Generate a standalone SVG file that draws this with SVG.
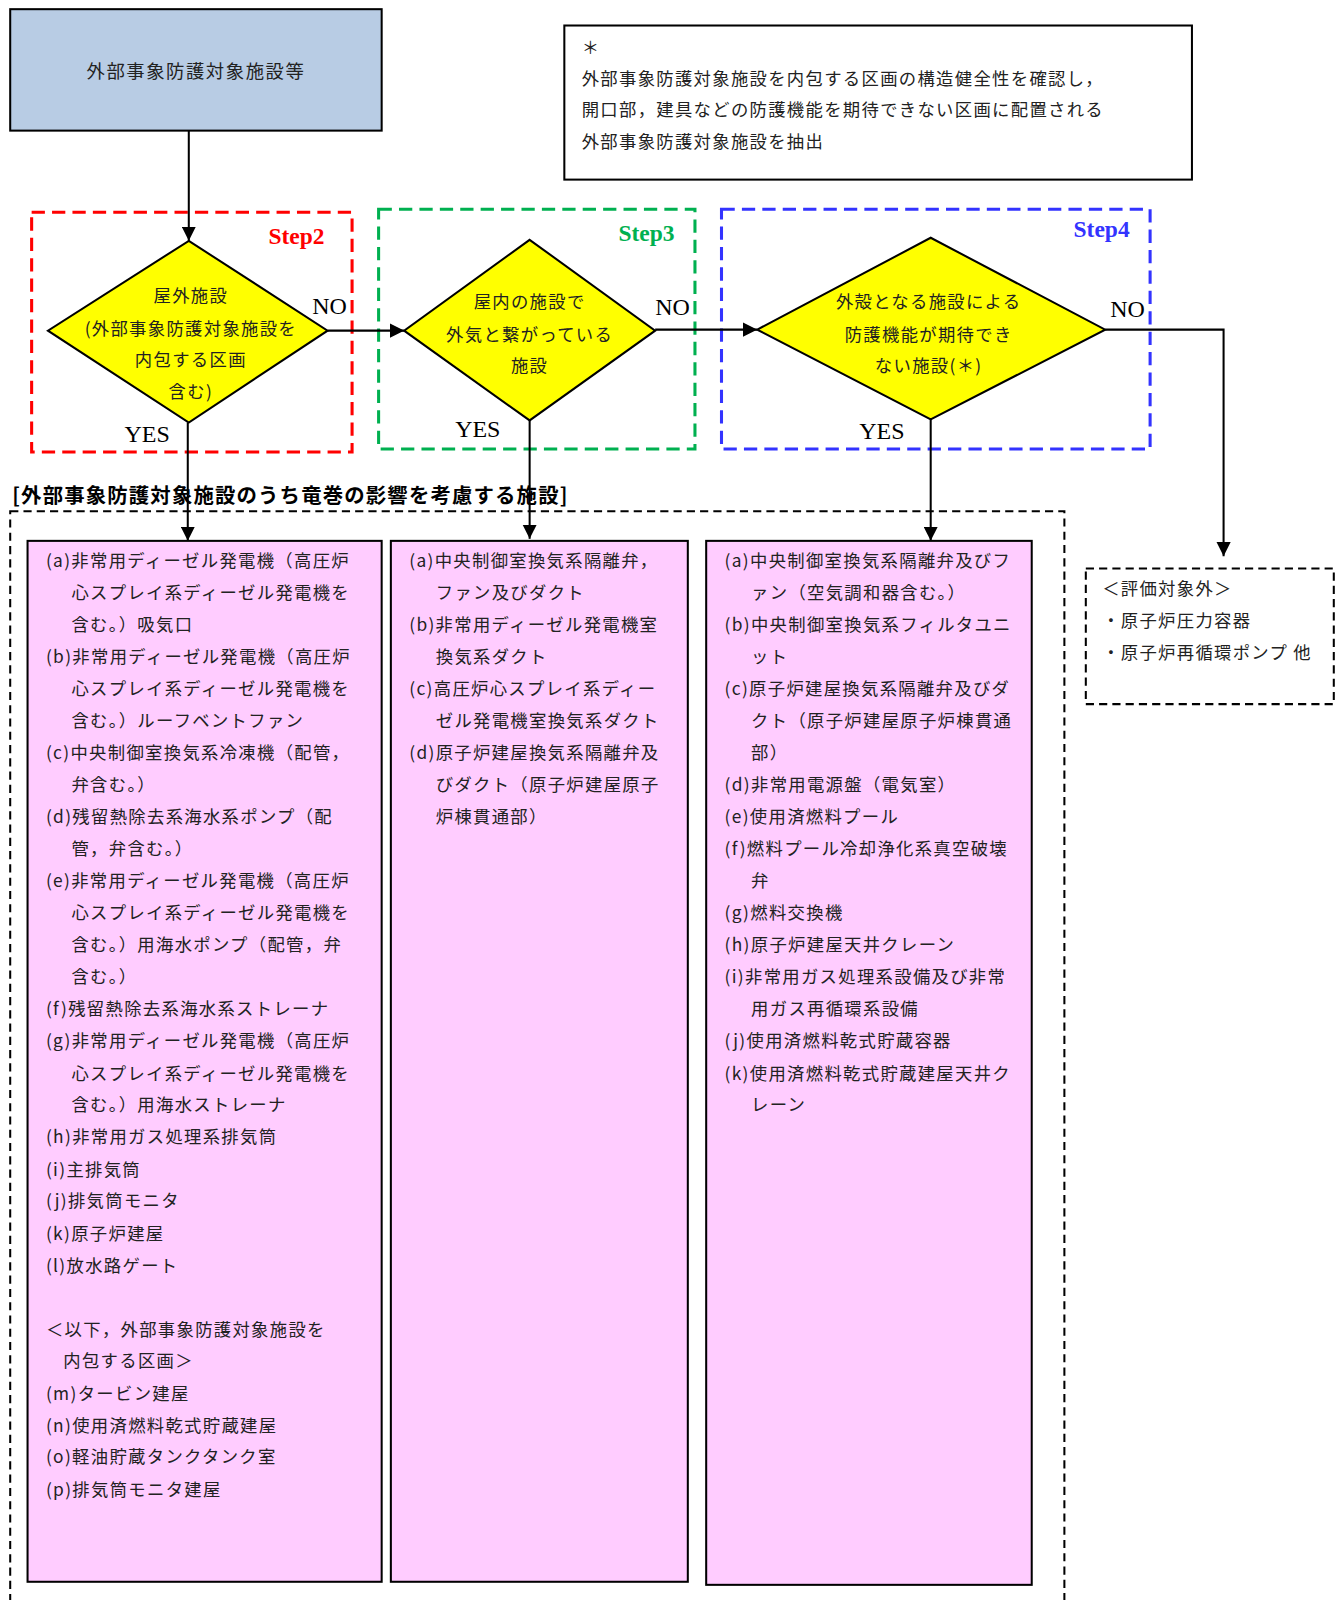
<svg xmlns="http://www.w3.org/2000/svg" width="1344" height="1600" viewBox="0 0 1344 1600">
<defs>
<marker id="arr" markerUnits="userSpaceOnUse" markerWidth="14" markerHeight="14" viewBox="0 0 10 10" refX="10" refY="5" orient="auto">
<path d="M0,0 L10,5 L0,10 z" fill="#000"/>
</marker>
<style>
.t{font-family:"Noto Sans CJK JP","Noto Sans",sans-serif;font-size:17px;fill:#222;letter-spacing:1.3px}
.c{text-anchor:middle}
.lab{font-family:"Liberation Serif","DejaVu Serif",serif;font-size:23.5px;fill:#000}
.step{font-family:"Liberation Serif","DejaVu Serif",serif;font-size:23px;font-weight:bold}
.dash{fill:none;stroke-width:3;stroke-dasharray:13 7}
.kdash{fill:none;stroke:#000;stroke-width:2;stroke-dasharray:8 5}
.pink{fill:#ffccff;stroke:#000;stroke-width:2}
.dia{fill:#ffff00;stroke:#000;stroke-width:2}
.con{fill:none;stroke:#000;stroke-width:2}
</style>
</defs>
<rect width="1344" height="1600" fill="#fff"/>
<g transform="scale(1.0205)">

<g id="frames">
<rect class="dash" x="31" y="208" width="314" height="235" stroke="#ff0000"/>
<rect class="dash" x="371" y="205" width="310" height="235" stroke="#00b050"/>
<rect class="dash" x="707" y="205" width="420" height="235" stroke="#3333ff"/>
<text class="step" x="263" y="239" fill="#ff0000">Step2</text>
<text class="step" x="606" y="236" fill="#00b050">Step3</text>
<text class="step" x="1052" y="232" fill="#3333ff">Step4</text>
<rect class="kdash" x="10" y="501" width="1033" height="1120"/>
<text x="12" y="493" textLength="544" lengthAdjust="spacing" style="font-family:'Noto Sans CJK JP',sans-serif;font-size:20px;font-weight:bold;fill:#000">[外部事象防護対象施設のうち竜巻の影響を考慮する施設]</text>
</g>

<g id="start">
<rect x="10" y="9" width="364" height="119" fill="#b8cce4" stroke="#000" stroke-width="2"/>
<text class="t c" x="192" y="76" style="font-size:18px;letter-spacing:1.5px">外部事象防護対象施設等</text>
</g>

<g id="note">
<rect x="553" y="25" width="615" height="151" fill="#fff" stroke="#000" stroke-width="2"/>
<text class="t" x="570" y="53">＊</text>
<text class="t" x="570" y="83">外部事象防護対象施設を内包する区画の構造健全性を確認し，</text>
<text class="t" x="570" y="114">開口部，建具などの防護機能を期待できない区画に配置される</text>
<text class="t" x="570" y="145">外部事象防護対象施設を抽出</text>
</g>

<g id="d1">
<polygon class="dia" points="185,236 321,324 185,414 47,324"/>
<text class="t c" x="187" y="296">屋外施設</text>
<text class="t c" x="187" y="328">(外部事象防護対象施設を</text>
<text class="t c" x="187" y="359">内包する区画</text>
<text class="t c" x="187" y="390">含む)</text>
</g>

<g id="d2">
<polygon class="dia" points="519,235 642,324 519,412 396,324"/>
<text class="t c" x="519" y="302">屋内の施設で</text>
<text class="t c" x="519" y="334">外気と繋がっている</text>
<text class="t c" x="519" y="365">施設</text>
</g>

<g id="d3">
<polygon class="dia" points="912,233 1083,323 912,411 742,323"/>
<text class="t c" x="910" y="302">外殻となる施設による</text>
<text class="t c" x="910" y="334">防護機能が期待でき</text>
<text class="t c" x="910" y="365">ない施設(＊)</text>
</g>

<g id="connectors">
<line class="con" x1="185" y1="128" x2="185" y2="236" marker-end="url(#arr)"/>
<line class="con" x1="321" y1="324" x2="396" y2="324" marker-end="url(#arr)"/>
<line class="con" x1="642" y1="323" x2="742" y2="323" marker-end="url(#arr)"/>
<polyline class="con" points="1083,323 1199,323 1199,545" marker-end="url(#arr)"/>
<line class="con" x1="184" y1="414" x2="184" y2="530" marker-end="url(#arr)"/>
<line class="con" x1="519" y1="412" x2="519" y2="528" marker-end="url(#arr)"/>
<line class="con" x1="912" y1="411" x2="912" y2="530" marker-end="url(#arr)"/>
<text class="lab" x="306" y="308">NO</text>
<text class="lab" x="642" y="309">NO</text>
<text class="lab" x="1088" y="311">NO</text>
<text class="lab" x="122" y="433">YES</text>
<text class="lab" x="446" y="428">YES</text>
<text class="lab" x="842" y="430">YES</text>
</g>

<g id="box1">
<rect class="pink" x="27" y="530" width="347" height="1020"/>
<text class="t" x="45" y="556">(a)非常用ディーゼル発電機（高圧炉</text>
<text class="t" x="70" y="587">心スプレイ系ディーゼル発電機を</text>
<text class="t" x="70" y="618">含む。）吸気口</text>
<text class="t" x="45" y="650">(b)非常用ディーゼル発電機（高圧炉</text>
<text class="t" x="70" y="681">心スプレイ系ディーゼル発電機を</text>
<text class="t" x="70" y="712">含む。）ルーフベントファン</text>
<text class="t" x="45" y="744">(c)中央制御室換気系冷凍機（配管，</text>
<text class="t" x="70" y="775">弁含む。）</text>
<text class="t" x="45" y="806">(d)残留熱除去系海水系ポンプ（配</text>
<text class="t" x="70" y="838">管，弁含む。）</text>
<text class="t" x="45" y="869">(e)非常用ディーゼル発電機（高圧炉</text>
<text class="t" x="70" y="901">心スプレイ系ディーゼル発電機を</text>
<text class="t" x="70" y="932">含む。）用海水ポンプ（配管，弁</text>
<text class="t" x="70" y="963">含む。）</text>
<text class="t" x="45" y="995">(f)残留熱除去系海水系ストレーナ</text>
<text class="t" x="45" y="1026">(g)非常用ディーゼル発電機（高圧炉</text>
<text class="t" x="70" y="1058">心スプレイ系ディーゼル発電機を</text>
<text class="t" x="70" y="1089">含む。）用海水ストレーナ</text>
<text class="t" x="45" y="1120">(h)非常用ガス処理系排気筒</text>
<text class="t" x="45" y="1152">(i)主排気筒</text>
<text class="t" x="45" y="1183">(j)排気筒モニタ</text>
<text class="t" x="45" y="1215">(k)原子炉建屋</text>
<text class="t" x="45" y="1246">(l)放水路ゲート</text>
<text class="t" x="45" y="1309">＜以下，外部事象防護対象施設を</text>
<text class="t" x="62" y="1340">内包する区画＞</text>
<text class="t" x="45" y="1372">(m)タービン建屋</text>
<text class="t" x="45" y="1403">(n)使用済燃料乾式貯蔵建屋</text>
<text class="t" x="45" y="1434">(o)軽油貯蔵タンクタンク室</text>
<text class="t" x="45" y="1466">(p)排気筒モニタ建屋</text>
</g>

<g id="box2">
<rect class="pink" x="383" y="530" width="291" height="1020"/>
<text class="t" x="401" y="556">(a)中央制御室換気系隔離弁，</text>
<text class="t" x="427" y="587">ファン及びダクト</text>
<text class="t" x="401" y="618">(b)非常用ディーゼル発電機室</text>
<text class="t" x="427" y="650">換気系ダクト</text>
<text class="t" x="401" y="681">(c)高圧炉心スプレイ系ディー</text>
<text class="t" x="427" y="712">ゼル発電機室換気系ダクト</text>
<text class="t" x="401" y="744">(d)原子炉建屋換気系隔離弁及</text>
<text class="t" x="427" y="775">びダクト（原子炉建屋原子</text>
<text class="t" x="427" y="806">炉棟貫通部）</text>
</g>

<g id="box3">
<rect class="pink" x="692" y="530" width="319" height="1023"/>
<text class="t" x="710" y="556">(a)中央制御室換気系隔離弁及びフ</text>
<text class="t" x="736" y="587">ァン（空気調和器含む。）</text>
<text class="t" x="710" y="618">(b)中央制御室換気系フィルタユニ</text>
<text class="t" x="736" y="650">ット</text>
<text class="t" x="710" y="681">(c)原子炉建屋換気系隔離弁及びダ</text>
<text class="t" x="736" y="712">クト（原子炉建屋原子炉棟貫通</text>
<text class="t" x="736" y="744">部）</text>
<text class="t" x="710" y="775">(d)非常用電源盤（電気室）</text>
<text class="t" x="710" y="806">(e)使用済燃料プール</text>
<text class="t" x="710" y="838">(f)燃料プール冷却浄化系真空破壊</text>
<text class="t" x="736" y="869">弁</text>
<text class="t" x="710" y="901">(g)燃料交換機</text>
<text class="t" x="710" y="932">(h)原子炉建屋天井クレーン</text>
<text class="t" x="710" y="963">(i)非常用ガス処理系設備及び非常</text>
<text class="t" x="736" y="995">用ガス再循環系設備</text>
<text class="t" x="710" y="1026">(j)使用済燃料乾式貯蔵容器</text>
<text class="t" x="710" y="1058">(k)使用済燃料乾式貯蔵建屋天井ク</text>
<text class="t" x="736" y="1089">レーン</text>
</g>

<g id="excluded">
<rect class="kdash" x="1064" y="557" width="243" height="133"/>
<text class="t" x="1080" y="583">＜評価対象外＞</text>
<text class="t" x="1080" y="614">・原子炉圧力容器</text>
<text class="t" x="1080" y="646">・原子炉再循環ポンプ  他</text>
</g>
</g>
</svg>
